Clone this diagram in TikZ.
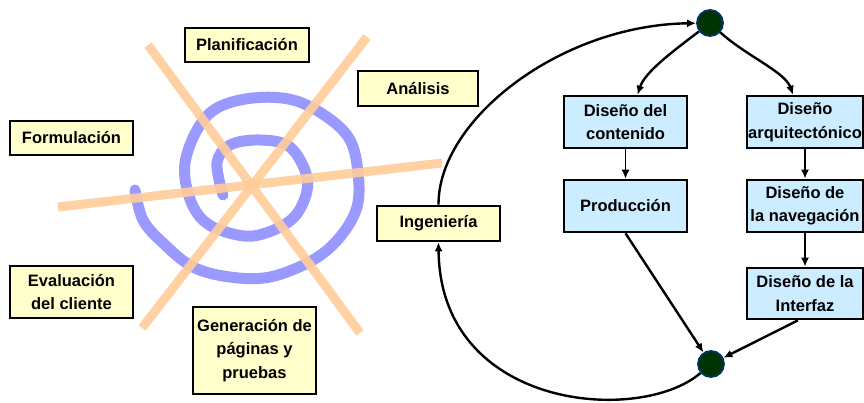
\documentclass[tikz,border=0pt]{standalone}
\usepackage{fontspec}
\setmainfont{Liberation Sans}
\usetikzlibrary{arrows.meta}
\definecolor{boxyellow}{HTML}{FFFFCC}
\definecolor{boxblue}{HTML}{CCECFF}
\definecolor{spiralblue}{HTML}{9999FF}
\definecolor{axisorange}{HTML}{FFCC99}
\definecolor{nodegreen}{HTML}{003300}
\definecolor{nodeedge}{HTML}{003366}

\begin{document}
\begin{tikzpicture}[x=1pt,y=-1pt,
  lbl/.style={draw=black, line width=2.6pt, align=center, inner sep=0pt,
    font=\bfseries\fontsize{16.5}{23.5}\selectfont},
  phase/.style={lbl, fill=boxyellow},
  task/.style={lbl, fill=boxblue},
  junction/.style={circle, fill=nodegreen, draw=nodeedge, line width=1.8pt,
    minimum size=26pt, inner sep=0pt},
  flow/.style={line width=2.4pt, -{Latex[length=9pt,width=8pt]}},
  ray/.style={line width=9pt, axisorange, opacity=0.9},
]
\useasboundingbox (0,0) rectangle (864,402);

% spiral of the process
\draw[spiralblue, line width=11pt, line cap=round] plot[smooth, tension=0.6] coordinates {
  (223,195) (217,163) (230,145) (260,140) (290,147) (307,177) (303,203)
  (287,223) (253,236) (220,230) (200,217) (188,193) (185,163) (197,130)
  (217,108) (253,98) (293,100) (327,117) (350,140) (358,173) (357,207)
  (340,237) (313,260) (270,277) (230,277) (193,267) (163,243) (143,220)
  (135,190)};

% axes separating the activities
\draw[ray] (148,45) -- (360,333);
\draw[ray] (367,37) -- (142,328);
\draw[ray] (58,207) -- (442,163);

% activities of the spiral
\node[phase, minimum width=124pt, minimum height=34pt] (plan) at (247,45) {Planificación};
\node[phase, minimum width=120pt, minimum height=35pt] (anal) at (418,88.5) {Análisis};
\node[phase, minimum width=123pt, minimum height=34pt] (form) at (71.5,138) {Formulación};
\node[phase, minimum width=123pt, minimum height=52pt] (eval) at (71.5,292) {Evaluación\\del cliente};
\node[phase, minimum width=123pt, minimum height=87pt] (gen) at (254.5,350.5) {Generación de\\páginas y\\pruebas};
\node[phase, minimum width=123pt, minimum height=35pt] (ing) at (438.5,223.5) {Ingeniería};

% engineering tasks
\node[task, minimum width=123pt, minimum height=52pt] (dcont) at (625.5,122) {Diseño del\\contenido};
\node[task, minimum width=123pt, minimum height=52pt] (prod) at (625.5,206) {Producción};
\node[task, minimum width=116pt, minimum height=52pt] (darq) at (805,122) {Diseño\\arquitectónico};
\node[task, minimum width=116pt, minimum height=52pt] (dnav) at (805,206) {Diseño de\\la navegación};
\node[task, minimum width=116pt, minimum height=51pt] (dint) at (805,293.5) {Diseño de la\\Interfaz};

% fork and join
\node[junction] (fork) at (710,23) {};
\node[junction] (join) at (711,364) {};

% connectors
\draw[flow] (fork) .. controls (672,52) and (645,72) .. ([xshift=12pt]dcont.north);
\draw[flow] (fork) .. controls (745,55) and (785,72) .. ([xshift=-12pt]darq.north);
\draw[flow, line width=1.5pt] (dcont) -- (prod);
\draw[flow] (darq) -- (dnav);
\draw[flow] (dnav) -- (dint);
\draw[flow] (prod.south) -- (join);
\draw[flow] ([xshift=-7pt]dint.south) -- (join);
\draw[flow] (join) .. controls (640,425) and (440,410) .. (ing.south);
\draw[flow] (ing.north) .. controls (438,120) and (560,25) .. (fork);
\end{tikzpicture}
\end{document}
